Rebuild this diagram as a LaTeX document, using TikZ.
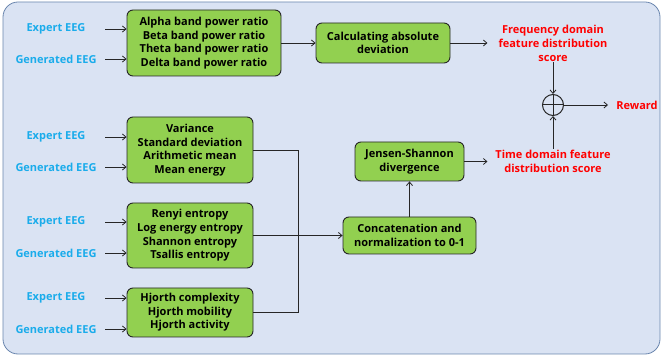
\documentclass[tikz,border=0pt]{standalone}
\usepackage{fontspec}
\setmainfont{Open Sans}
\usetikzlibrary{arrows.meta}
\definecolor{panel}{HTML}{DAE3F3}
\definecolor{panelline}{HTML}{6A86AE}
\definecolor{boxgreen}{HTML}{92D050}
\definecolor{eegblue}{HTML}{1AACEB}
\definecolor{scorered}{HTML}{FF0000}
\tikzset{
  x=1pt, y=-1pt,
  feat/.style={draw=black!85, fill=boxgreen, rounded corners=6pt, line width=0.9pt,
    align=center, inner sep=2pt, font=\bfseries\fontsize{11}{13.6}\selectfont},
  eeg/.style={text=eegblue, font=\bfseries\fontsize{11}{12}\selectfont,
    minimum width=98pt, inner sep=0pt, align=center},
  score/.style={text=scorered, align=center, inner sep=1pt,
    font=\bfseries\fontsize{11}{14}\selectfont},
  arr/.style={draw=black!85, line width=0.8pt, -{Straight Barb[length=3.5pt,width=6pt]}},
  wire/.style={draw=black!85, line width=0.8pt}
}
\begin{document}
\begin{tikzpicture}
\useasboundingbox (0,0) rectangle (662,358);
\fill[panel, draw=panelline, line width=0.8pt, rounded corners=15pt] (3,2) rectangle (660,354);

% frequency-domain branch
\node[feat, minimum width=154pt, minimum height=66pt] (band) at (204,43)
  {Alpha band power ratio\\Beta band power ratio\\Theta band power ratio\\Delta band power ratio};
\node[feat, minimum width=134pt, minimum height=40pt] (absdev) at (383,43)
  {Calculating absolute\\deviation};
\node[score] (freq) at (553,43) {Frequency domain\\feature distribution\\score};

% time-domain branch
\node[feat, minimum width=126pt, minimum height=66pt] (stats) at (190,150)
  {Variance\\Standard deviation\\Arithmetic mean\\Mean energy};
\node[feat, minimum width=126pt, minimum height=65pt] (entropy) at (190,235.5)
  {Renyi entropy\\Log energy entropy\\Shannon entropy\\Tsallis entropy};
\node[feat, minimum width=126pt, minimum height=49pt] (hjorth) at (190,312.5)
  {Hjorth complexity\\Hjorth mobility\\Hjorth activity};
\node[feat, minimum width=133pt, minimum height=37pt] (concat) at (409.5,235.5)
  {Concatenation and\\normalization to 0-1};
\node[feat, minimum width=109pt, minimum height=39pt] (js) at (409.5,161.5)
  {Jensen-Shannon\\divergence};
\node[score] (time) at (553,161) {Time domain feature\\distribution score};

% combination
\node[circle, draw=black!85, line width=1pt, minimum size=21pt, inner sep=0pt,
  path picture={\draw[line width=1pt] (path picture bounding box.north) -- (path picture bounding box.south)
    (path picture bounding box.west) -- (path picture bounding box.east);}] (sum) at (553,105) {};
\node[score] (reward) at (637,105) {Reward};

% EEG inputs
\node[eeg] (e1) at (56,29) {Expert EEG};
\node[eeg] (g1) at (56,59) {Generated EEG};
\node[eeg] (e2) at (56,137) {Expert EEG};
\node[eeg] (g2) at (56,167) {Generated EEG};
\node[eeg] (e3) at (56,222) {Expert EEG};
\node[eeg] (g3) at (56,253) {Generated EEG};
\node[eeg] (e4) at (56,298) {Expert EEG};
\node[eeg] (g4) at (56,329) {Generated EEG};

\foreach \s/\t in {e1/band, g1/band, e2/stats, g2/stats, e3/entropy, g3/entropy, e4/hjorth, g4/hjorth}
  \draw[arr] (\s.east) -- (\s.east -| \t.west);

% connectors
\draw[arr] (band) -- (absdev);
\draw[arr] (absdev.east) -- ++(37,0) coordinate (freqin);
\draw[arr] (freq.south) -- (sum.north);
\draw[arr] (time.north) -- (sum.south);
\draw[arr] (sum.east) -- ++(44,0);

\coordinate (busT) at (298,150);
\coordinate (busB) at (298,312.5);
\draw[wire] (stats.east) -- (busT) -- (busB) -- (hjorth.east);
\draw[arr] (entropy.east) -- (concat.west);
\draw[arr] (concat) -- (js);
\draw[arr] (js.east) -- ++(23,0);
\end{tikzpicture}
\end{document}
